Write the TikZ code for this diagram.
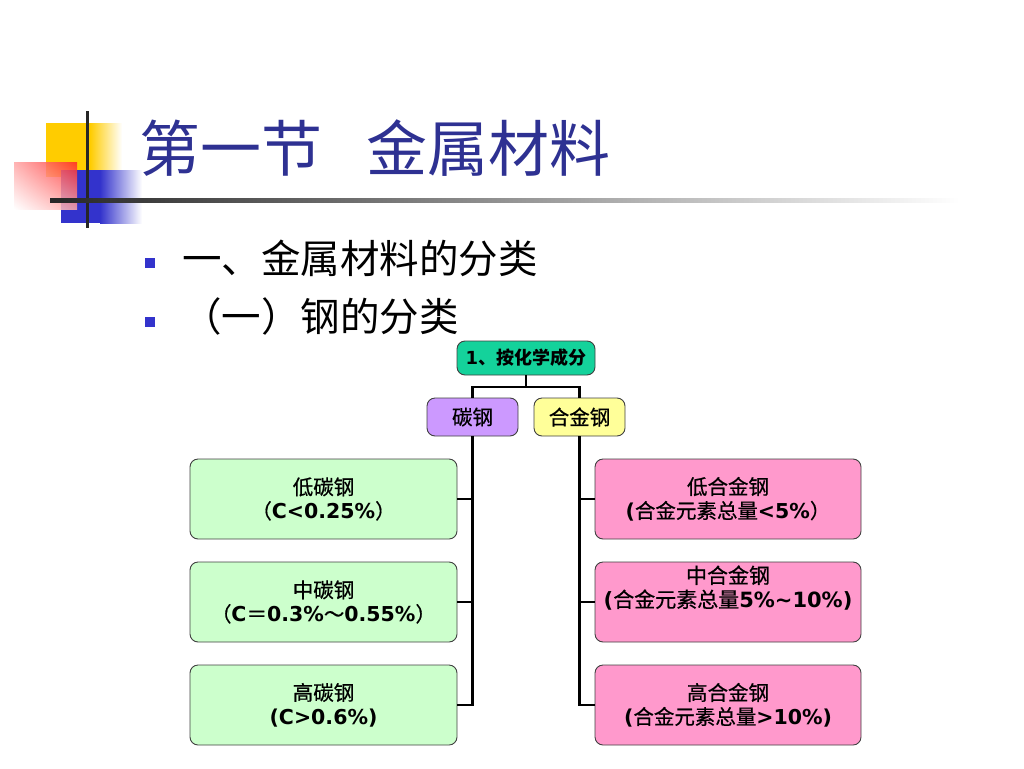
\documentclass[tikz,border=0pt]{standalone}
\usepackage{fontspec}
\setmainfont{DejaVu Sans}
\newfontfamily\cjk{Noto Sans CJK SC}
\newfontfamily\cjkm[FakeBold=0.6]{Noto Sans CJK SC}
\usetikzlibrary{calc,shadings}
\definecolor{titleblue}{RGB}{46,49,146}
\definecolor{bulletblue}{RGB}{51,51,204}
\definecolor{topgreen}{RGB}{20,210,155}
\definecolor{carbonpurple}{RGB}{204,153,255}
\definecolor{alloyyellow}{RGB}{255,255,153}
\definecolor{lightgreen}{RGB}{204,255,204}
\definecolor{pink}{RGB}{255,153,204}
\definecolor{decoyellow}{RGB}{255,204,0}
\definecolor{decoblue}{RGB}{51,51,204}
\newcommand{\cj}[1]{{\cjkm #1}}
\newcommand{\lb}[1]{\textbf{#1}}
\tikzset{
  box/.style={draw=black!75, line width=0.9pt, rounded corners=8pt, inner sep=0pt,
    align=center, text=black, font=\fontsize{20.5}{24}\selectfont},
  conn/.style={draw=black, line width=2.8pt},
  bullet/.style={fill=bulletblue, minimum size=10pt, inner sep=0pt},
  btext/.style={anchor=west, inner sep=0pt, font=\cjk\fontsize{39.5}{44}\selectfont}
}
\begin{document}
\begin{tikzpicture}[x=1pt,y=-1pt]
\useasboundingbox (0,0) rectangle (1024,768);
% decoration
\fill[decoyellow] (46,123) rectangle (90,177);
\shade[left color=decoyellow, right color=white] (90,123) rectangle (122,177);
\fill[decoblue] (61,170) rectangle (100,223);
\shade[left color=decoblue, right color=white] (100,170) rectangle (142,223);
\shade[upper left=red!35!white, upper right=red!85, lower left=white, lower right=red!35!white, opacity=0.85] (14,162) rectangle (77,209);
\fill[black!85] (85.5,111) rectangle (88.5,228);
\shade[left color=black!85, right color=white] (50,198) rectangle (960,202);
% title
\node[anchor=west, inner sep=0pt, text=titleblue, font=\cjk\fontsize{61}{66}\selectfont] (title) at (139,148) {第一节\hspace{44pt}金属材料};
% bullets
\node[bullet] (b1) at (150,263) {};
\node[btext] (t1) at (182,258) {一、金属材料的分类};
\node[bullet] (b2) at (150,322) {};
\node[btext] (t2) at (182,316) {（一）钢的分类};
% chart
\node[box, fill=topgreen, minimum width=138pt, minimum height=34pt, font=\fontsize{18}{22}\selectfont\bfseries] (top) at (526,358) {\lb{1}{\cjk\bfseries 、按化学成分}};
\node[box, fill=carbonpurple, minimum width=91pt, minimum height=38pt] (carbon) at (472.5,417) {\cj{碳钢}};
\node[box, fill=alloyyellow, minimum width=91pt, minimum height=38pt] (alloy) at (579.5,417) {\cj{合金钢}};
\node[box, fill=lightgreen, minimum width=267pt, minimum height=80pt] (lowc) at (323.5,499) {\cj{低碳钢}\\\cj{（}\lb{C<0.25\%}\cj{）}};
\node[box, fill=lightgreen, minimum width=267pt, minimum height=80pt] (midc) at (323.5,602) {\cj{中碳钢}\\\cj{（}\lb{C}\cj{＝}\lb{0.3\%}\cj{～}\lb{0.55\%}\cj{）}};
\node[box, fill=lightgreen, minimum width=267pt, minimum height=80pt] (highc) at (323.5,705) {\cj{高碳钢}\\\lb{(C>0.6\%)}};
\node[box, fill=pink, minimum width=266pt, minimum height=80pt] (lowa) at (728,499) {\cj{低合金钢}\\\lb{(}\cj{合金元素总量}\lb{<5\%}\cj{）}};
\node[box, fill=pink, minimum width=266pt, minimum height=80pt, font=\fontsize{21}{24}\selectfont] (mida) at (728,602) {\cj{中合金钢}\\\lb{(}\cj{合金元素总量}\lb{5\%\textasciitilde10\%)}\\\strut};
\node[box, fill=pink, minimum width=266pt, minimum height=80pt] (higha) at (728,705) {\cj{高合金钢}\\\lb{(}\cj{合金元素总量}\lb{>10\%)}};
% connectors
\coordinate (j) at (526,387);
\draw[conn] (top.south) -- (j);
\draw[conn] (j) -| (carbon.north);
\draw[conn] (j) -| (alloy.north);
\draw[conn] (carbon.south) |- (lowc.east);
\draw[conn] (carbon.south) |- (midc.east);
\draw[conn] (carbon.south) |- (highc.east);
\draw[conn] (alloy.south) |- (lowa.west);
\draw[conn] (alloy.south) |- (mida.west);
\draw[conn] (alloy.south) |- (higha.west);
\end{tikzpicture}
\end{document}
